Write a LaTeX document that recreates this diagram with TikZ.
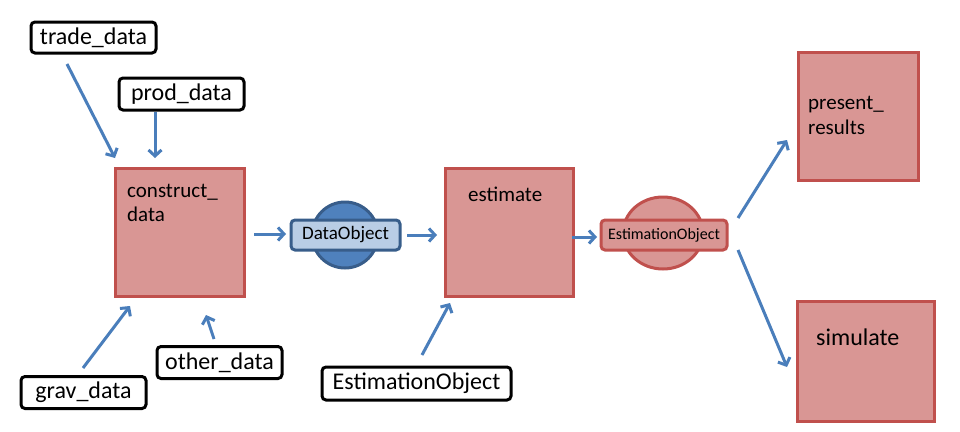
\documentclass[tikz,border=0pt]{standalone}
\usepackage{fontspec}
\setmainfont{Carlito}
\usetikzlibrary{arrows.meta,shapes.geometric}
\definecolor{boxfill}{HTML}{D99694}
\definecolor{boxline}{HTML}{C0504D}
\definecolor{arrowblue}{HTML}{4A7EBB}
\definecolor{circfill}{HTML}{4F81BD}
\definecolor{circline}{HTML}{385D8A}
\definecolor{lightblue}{HTML}{B9CDE5}
\begin{document}
\begin{tikzpicture}[x=1pt,y=-1pt,
  procbox/.style={draw=boxline, fill=boxfill, line width=3pt, inner sep=0pt},
  databox/.style={draw=black, fill=white, line width=3pt, rounded corners=4pt, inner sep=0pt, font=\fontsize{24}{26}\selectfont},
  flow/.style={draw=arrowblue, line width=3pt, -{Straight Barb[length=6pt,width=13pt]}},
  boxtext/.style={inner sep=0pt, anchor=base west, font=\fontsize{21}{24}\selectfont}
]
\useasboundingbox (0,0) rectangle (960,431);

% process boxes
\node[procbox, minimum width=129pt, minimum height=128pt] (construct) at (179.5,232) {};
\node[procbox, minimum width=128pt, minimum height=128pt] (estimate) at (509,232) {};
\node[procbox, minimum width=120pt, minimum height=128pt] (present) at (858,116) {};
\node[procbox, minimum width=137pt, minimum height=120pt] (simulate) at (865.5,361.5) {};

\node[boxtext] (constructlbl1) at (127,197) {construct\_};
\node[boxtext] (constructlbl2) at (127,221) {data};
\node[boxtext] (estimatelbl) at (468,201) {estimate};
\node[boxtext] (presentlbl1) at (808,109) {present\_};
\node[boxtext] (presentlbl2) at (808,134) {results};
\node[boxtext, font=\fontsize{24}{26}\selectfont] (simulatelbl) at (816,345) {simulate};

% DataObject
\node[circle, draw=circline, fill=circfill, line width=3pt, minimum size=66pt, inner sep=0pt] (dacirc) at (345,235) {};
\node[draw=circline, fill=lightblue, line width=3pt, rounded corners=4pt, minimum width=109pt, minimum height=30pt, inner sep=0pt, font=\fontsize{19}{21}\selectfont] (dataobj) at (345.5,235) {DataObject};

% EstimationObject
\node[ellipse, draw=boxline, fill=boxfill, line width=3pt, minimum width=80pt, minimum height=72pt, inner sep=0pt] (eocirc) at (663,233) {};
\node[draw=boxline, fill=boxfill, line width=3pt, rounded corners=4pt, minimum width=126pt, minimum height=30pt, inner sep=0pt, font=\fontsize{16}{18}\selectfont] (estobj) at (664,235) {EstimationObject};

% data label boxes
\node[databox, minimum width=125pt, minimum height=31pt] (trade) at (93.5,37.5) {trade\_data};
\node[databox, minimum width=125pt, minimum height=32pt] (prod) at (181.5,94) {prod\_data};
\node[databox, minimum width=125pt, minimum height=32pt] (grav) at (83.5,392.5) {grav\_data};
\node[databox, minimum width=125pt, minimum height=32pt] (other) at (219.5,362.5) {other\_data};
\node[databox, minimum width=189pt, minimum height=33pt] (estinput) at (416.5,383.5) {EstimationObject};

% connector end points
\coordinate (t1) at (67,64);   \coordinate (t2) at (115,158);
\coordinate (p1) at (155,112); \coordinate (p2) at (155,158);
\coordinate (g1) at (83,368);  \coordinate (g2) at (130,306);
\coordinate (o1) at (214,339); \coordinate (o2) at (206,315);
\coordinate (c1) at (254,234); \coordinate (c2) at (286,234);
\coordinate (d1) at (407,235); \coordinate (d2) at (437,235);
\coordinate (e1) at (572,237); \coordinate (e2) at (597,237);
\coordinate (i1) at (422,355); \coordinate (i2) at (450,303);
\coordinate (r1) at (738,218); \coordinate (r2) at (787,140);
\coordinate (s1) at (738,250); \coordinate (s2) at (787,367);

\draw[flow] (t1) -- (t2);
\draw[flow] (p1) -- (p2);
\draw[flow] (g1) -- (g2);
\draw[flow] (o1) -- (o2);
\draw[flow] (c1) -- (c2);
\draw[flow] (d1) -- (d2);
\draw[flow] (e1) -- (e2);
\draw[flow] (i1) -- (i2);
\draw[flow] (r1) -- (r2);
\draw[flow] (s1) -- (s2);
\end{tikzpicture}
\end{document}
